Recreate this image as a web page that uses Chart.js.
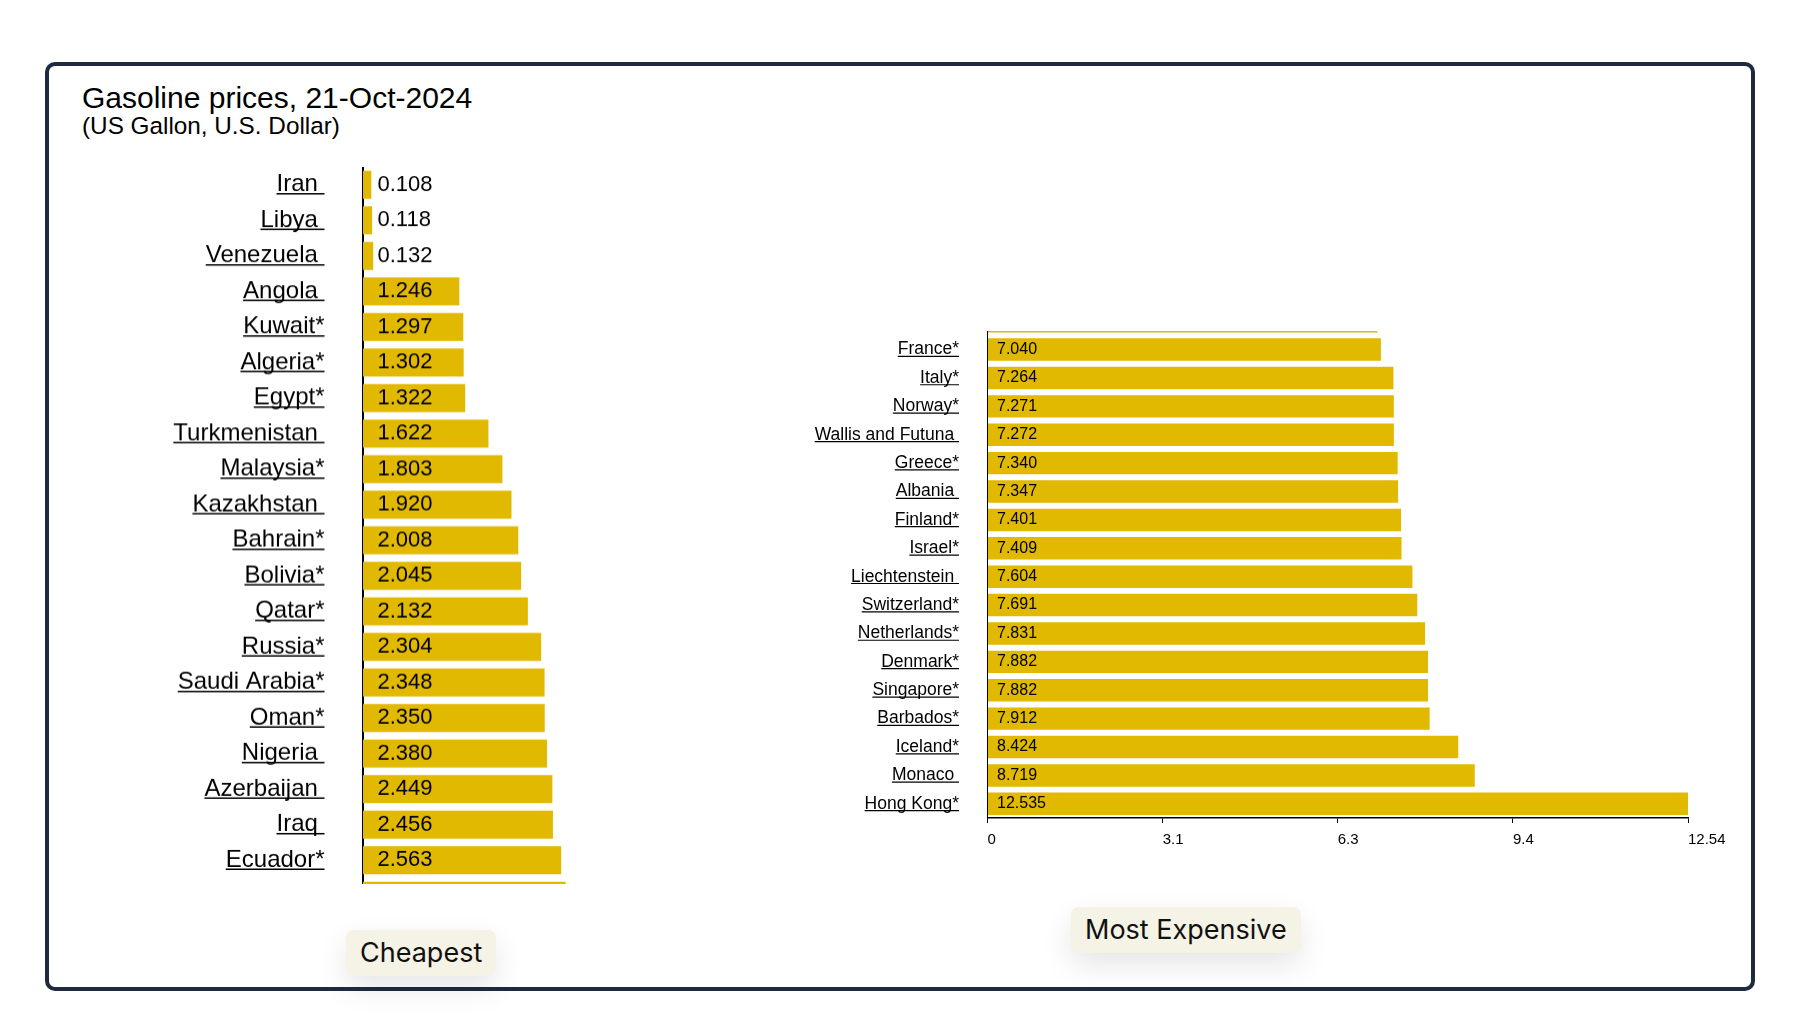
<!DOCTYPE html>
<html>
<head>
<meta charset="utf-8">
<title>Gasoline prices, 21-Oct-2024</title>
<script src="https://cdn.jsdelivr.net/npm/chart.js@4.4.1/dist/chart.umd.min.js"></script>
<style>
  html, body { margin: 0; padding: 0; background: #fff; }
  body { width: 1793px; height: 1030px; position: relative; overflow: hidden;
         font-family: "Liberation Sans", Arial, sans-serif; color: #000; }
  #frame { position: absolute; left: 45px; top: 62px; width: 1702px; height: 921px;
           border: 4px solid #1f2a40; border-radius: 10px; }
  .title { position: absolute; left: 82px; top: 83px; font-size: 30px; line-height: 30px; white-space: nowrap; }
  .subtitle { position: absolute; left: 82px; top: 114px; font-size: 24.3px; line-height: 24px; white-space: nowrap; }
  .clip { position: absolute; overflow: hidden; }
  .inner { position: absolute; left: 0; }
  .badge { position: absolute; height: 46px; line-height: 46px; padding: 0 14px;
           background: #f5f2e6; border-radius: 8px; box-shadow: 0 12px 30px rgba(0,0,0,0.10);
           font-family: Inter, "Liberation Sans", sans-serif; font-size: 27px; color: #111; white-space: nowrap; }
</style>
</head>
<body>
<div id="frame"></div>
<div class="title">Gasoline prices, 21-Oct-2024</div>
<div class="subtitle">(US Gallon, U.S. Dollar)</div>

<div class="clip" style="left:90px; top:150px; width:520px; height:734px;">
  <div class="inner" style="top:17px; width:505px; height:745.5px;"><canvas id="cheap"></canvas></div>
</div>
<div class="clip" style="left:800px; top:331px; width:960px; height:560px;">
  <div class="inner" style="top:-24px; width:933px; height:544px;"><canvas id="dear"></canvas></div>
</div>

<div class="badge" style="left:346px; top:930px;">Cheapest</div>
<div class="badge" style="left:1071px; top:907px;">Most Expensive</div>

<script>
// cheapest 20 (last row is the one cut off by the scroll box)
const cheapLabels = ['Iran ', 'Libya ', 'Venezuela ', 'Angola ', 'Kuwait*', 'Algeria*', 'Egypt*',
  'Turkmenistan ', 'Malaysia*', 'Kazakhstan ', 'Bahrain*', 'Bolivia*', 'Qatar*', 'Russia*',
  'Saudi Arabia*', 'Oman*', 'Nigeria ', 'Azerbaijan ', 'Iraq ', 'Ecuador*', ''];
const cheapPrices = [0.108, 0.118, 0.132, 1.246, 1.297, 1.302, 1.322, 1.622, 1.803, 1.920,
  2.008, 2.045, 2.132, 2.304, 2.348, 2.350, 2.380, 2.449, 2.456, 2.563, 2.62];

// most expensive (first row is cut off at the top)
const dearLabels = ['', 'France*', 'Italy*', 'Norway*', 'Wallis and Futuna ', 'Greece*', 'Albania ',
  'Finland*', 'Israel*', 'Liechtenstein ', 'Switzerland*', 'Netherlands*', 'Denmark*',
  'Singapore*', 'Barbados*', 'Iceland*', 'Monaco ', 'Hong Kong*'];
const dearPrices = [6.98, 7.040, 7.264, 7.271, 7.272, 7.340, 7.347, 7.401, 7.409, 7.604,
  7.691, 7.831, 7.882, 7.882, 7.912, 8.424, 8.719, 12.535];
const dearTicks = ['0', '3.1', '6.3', '9.4', '12.54'];

const barColor = '#e1b900';

Chart.defaults.font.family = '"Liberation Sans", Arial, sans-serif';
Chart.defaults.color = '#000';

// underline the country names like links
const underlineTicks = {
    id: 'underlineTicks',
    afterDraw(chart, args, opts) {
        const scale = chart.scales.y;
        const ctx = chart.ctx;
        const font = Chart.helpers.toFont(scale.options.ticks.font);
        const right = scale.right - scale.options.ticks.padding;
        ctx.save();
        ctx.font = font.string;
        ctx.strokeStyle = '#000';
        ctx.lineWidth = opts.width;
        scale.ticks.forEach((t, i) => {
            const text = chart.data.labels[i];
            if (!text) return;
            const w = ctx.measureText(text).width;
            const y = scale.getPixelForTick(i) + opts.offset;
            ctx.beginPath();
            ctx.moveTo(right - w, y);
            ctx.lineTo(right, y);
            ctx.stroke();
        });
        ctx.restore();
    },
};

// price written at the start of each bar
const valueLabels = {
    id: 'valueLabels',
    afterDatasetsDraw(chart, args, opts) {
        const ctx = chart.ctx;
        const meta = chart.getDatasetMeta(0);
        const values = chart.data.datasets[0].data;
        ctx.save();
        ctx.font = opts.font;
        ctx.fillStyle = '#000';
        ctx.textAlign = 'left';
        ctx.textBaseline = 'middle';
        meta.data.forEach((bar, i) => {
            if (!chart.data.labels[i]) return;
            ctx.fillText(values[i].toFixed(3), chart.chartArea.left + opts.offset, bar.y);
        });
        ctx.restore();
    },
};

function fixedAxis(width) {
    return (scale) => {
        scale.width = width;
        scale.paddingTop = 0;
        scale.paddingBottom = 0;
    };
}

new Chart(document.getElementById('cheap'), {
    type: 'bar',
    data: {
        labels: cheapLabels,
        datasets: [{
            data: cheapPrices,
            backgroundColor: barColor,
            borderWidth: 0,
            categoryPercentage: 1,
            barPercentage: 0.79,
        }],
    },
    options: {
        indexAxis: 'y',
        responsive: true,
        maintainAspectRatio: false,
        animation: false,
        layout: { padding: 0 },
        plugins: {
            legend: { display: false },
            tooltip: { enabled: false },
            underlineTicks: { offset: 9, width: 1.5 },
            valueLabels: { offset: 14.5, font: '22px "Liberation Sans", Arial, sans-serif' },
        },
        scales: {
            x: { display: false, min: 0, max: 3 },
            y: {
                afterFit: fixedAxis(273),
                grid: { display: false, drawTicks: false },
                border: { display: true, color: '#000', width: 2 },
                ticks: { font: { size: 24 }, padding: 38.5, autoSkip: false, color: '#000' },
            },
        },
    },
    plugins: [underlineTicks, valueLabels],
});

const dearMax = Math.max(...dearPrices);

new Chart(document.getElementById('dear'), {
    type: 'bar',
    data: {
        labels: dearLabels,
        datasets: [{
            data: dearPrices,
            backgroundColor: barColor,
            borderWidth: 0,
            categoryPercentage: 1,
            barPercentage: 0.79,
        }],
    },
    options: {
        indexAxis: 'y',
        responsive: true,
        maintainAspectRatio: false,
        animation: false,
        layout: { padding: { right: 45 } },
        plugins: {
            legend: { display: false },
            tooltip: { enabled: false },
            underlineTicks: { offset: 6.8, width: 1.2 },
            valueLabels: { offset: 9.5, font: '16px "Liberation Sans", Arial, sans-serif' },
        },
        scales: {
            x: {
                min: 0,
                max: dearMax,
                afterBuildTicks: (scale) => {
                    scale.ticks = dearTicks.map((t, i) => ({ value: dearMax * i / (dearTicks.length - 1) }));
                },
                afterFit: (scale) => {
                    scale.height = 33;
                    scale.paddingLeft = 0;
                    scale.paddingRight = 0;
                },
                grid: { drawOnChartArea: false, drawTicks: true, tickLength: 5, tickColor: '#000' },
                border: { display: true, color: '#000', width: 1.5 },
                ticks: {
                    font: { size: 15 },
                    align: 'start',
                    padding: 8,
                    maxRotation: 0,
                    autoSkip: false,
                    callback: (value, index) => dearTicks[index],
                },
            },
            y: {
                afterFit: fixedAxis(187.5),
                grid: { display: false, drawTicks: false },
                border: { display: true, color: '#000', width: 1 },
                ticks: { font: { size: 17.5 }, padding: 28.5, autoSkip: false, color: '#000' },
            },
        },
    },
    plugins: [underlineTicks, valueLabels],
});
</script>
</body>
</html>
